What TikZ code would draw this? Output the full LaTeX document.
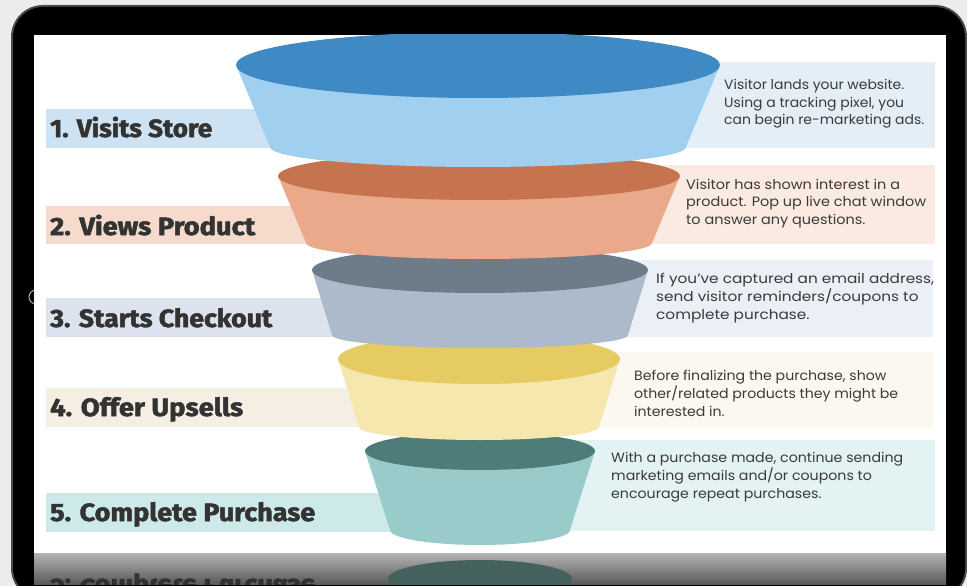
\documentclass[tikz,border=0pt]{standalone}
\usepackage{fontspec}
\setmainfont{Fira Sans}[BoldFeatures={FakeBold=2}]
\newfontfamily\descfont{Poppins}
\definecolor{bggray}{HTML}{ECECEC}
\definecolor{bezel}{HTML}{4A4A4A}
\definecolor{lblgray}{HTML}{333333}
\definecolor{descgray}{HTML}{3A3A3A}
\definecolor{bandA}{HTML}{CDE2F3}
\definecolor{boxA}{HTML}{E4EEF7}
\definecolor{bandB}{HTML}{F6DACC}
\definecolor{boxB}{HTML}{FBEAE2}
\definecolor{bandC}{HTML}{DCE3EE}
\definecolor{boxC}{HTML}{EBEFF6}
\definecolor{bandD}{HTML}{F4EFE2}
\definecolor{boxD}{HTML}{FCF8F0}
\definecolor{bandE}{HTML}{CDE9EA}
\definecolor{boxE}{HTML}{E3F3F4}
\definecolor{topA}{HTML}{3F8AC4}
\definecolor{bodyA}{HTML}{A0CFEF}
\definecolor{topB}{HTML}{C6734F}
\definecolor{bodyB}{HTML}{EBA98B}
\definecolor{topC}{HTML}{6E7B89}
\definecolor{bodyC}{HTML}{ADBACB}
\definecolor{topD}{HTML}{E5CB61}
\definecolor{bodyD}{HTML}{F6E7AE}
\definecolor{topE}{HTML}{4E7C79}
\definecolor{bodyE}{HTML}{98CBC9}
\definecolor{reflteal}{HTML}{45625F}
\definecolor{stripTop}{HTML}{B4B4B4}
\definecolor{stripMid}{HTML}{6E6E6E}
\definecolor{stripBot}{HTML}{5A5A5A}
\tikzset{
  lbltext/.style={anchor=base west, inner sep=0pt, text=lblgray,
    font=\fontsize{25}{28}\selectfont\bfseries},
  desctext/.style={anchor=west, inner sep=0pt, text=descgray,
    font=\descfont\fontsize{13.5}{17.5}\selectfont},
}
\newcommand\funnellayer[9]{%
  \fill[#9] ({#1-#3},#2) -- ({#1-#6},#5)
    arc[start angle=180,end angle=0,x radius=#6,y radius=#7]
    -- ({#1+#3},#2) -- cycle;
  \fill[#8] (#1,#2) ellipse[x radius=#3, y radius=#4];
}
\newcommand\desclines[2]{\resizebox{#1pt}{\height}{\begin{tabular}{@{}l@{}}#2\end{tabular}}}
\newcommand\lblfit[2]{\resizebox{#1pt}{\height}{#2}}
\begin{document}
\begin{tikzpicture}[x=1pt,y=-1pt]
\useasboundingbox (0,0) rectangle (967,586);
\fill[bggray] (0,0) rectangle (967,586);
% tablet frame
\fill[bezel, rounded corners=32pt] (11,5) rectangle (967,600);
\fill[black, rounded corners=30pt] (13,7) rectangle (965,598);
\draw[gray!70, line width=1pt] (36,297) circle (7);
% screen
\fill[white] (34,35) rectangle (946,553);
% bottom reflection strip
\begin{scope}
  \clip (34,553) rectangle (946,584);
  \shade[top color=stripTop, middle color=stripMid, bottom color=stripBot] (34,553) rectangle (946,584);
  \fill[reflteal] (480,579) ellipse[x radius=92, y radius=19];
  \begin{scope}[shift={(50,579)}, yscale=-1]
    \node[lbltext, transform shape, text=black!85, opacity=0.8] (refl) at (0,0) {\lblfit{265}{5. Complete Purchase}};
  \end{scope}
\end{scope}
% label bands and description boxes
\fill[bandA] (46,109) rectangle (480,148);
\fill[boxA] (480,62) rectangle (935,148);
\fill[bandB] (46,206) rectangle (480,244);
\fill[boxB] (480,165) rectangle (935,244);
\fill[bandC] (46,298) rectangle (480,337);
\fill[boxC] (480,260) rectangle (933,337);
\fill[bandD] (46,388) rectangle (480,427);
\fill[boxD] (480,352) rectangle (933,428);
\fill[bandE] (46,493) rectangle (480,532);
\fill[boxE] (480,440) rectangle (935,531);
% funnel
\begin{scope}
  \clip (34,35) rectangle (946,553);
  \funnellayer{480}{451}{115}{19}{530}{90}{15}{topE}{bodyE}
  \funnellayer{479}{359}{141}{25}{427}{120}{13}{topD}{bodyD}
  \funnellayer{480}{270}{168}{23}{335}{148}{13}{topC}{bodyC}
  \funnellayer{479}{176}{201}{24}{243}{173}{16}{topB}{bodyB}
  \funnellayer{478}{65}{242}{33}{147}{208}{20}{topA}{bodyA}
\end{scope}
% step labels
\node[lbltext] (l1) at (50,137) {\lblfit{162}{1. Visits Store}};
\node[lbltext] (l2) at (50,235) {\lblfit{205}{2. Views Product}};
\node[lbltext] (l3) at (50,327) {\lblfit{222}{3. Starts Checkout}};
\node[lbltext] (l4) at (50,416) {\lblfit{193}{4. Offer Upsells}};
\node[lbltext] (l5) at (50,521) {\lblfit{265}{5. Complete Purchase}};
% descriptions
\node[desctext] (d1) at (724,104) {\desclines{200}{Visitor lands your website.\\ Using a tracking pixel, you\\ can begin re-marketing ads.}};
\node[desctext] (d2) at (686,203) {\desclines{240}{Visitor has shown interest in a\\ product. Pop up live chat window\\ to answer any questions.}};
\node[desctext] (d3) at (656,298) {\desclines{278}{If you’ve captured an email address,\\ send visitor reminders/coupons to\\ complete purchase.}};
\node[desctext] (d4) at (634,395) {\desclines{264}{Before finalizing the purchase, show\\ other/related products they might be\\ interested in.}};
\node[desctext] (d5) at (611,477) {\desclines{292}{With a purchase made, continue sending\\ marketing emails and/or coupons to\\ encourage repeat purchases.}};
\end{tikzpicture}
\end{document}
